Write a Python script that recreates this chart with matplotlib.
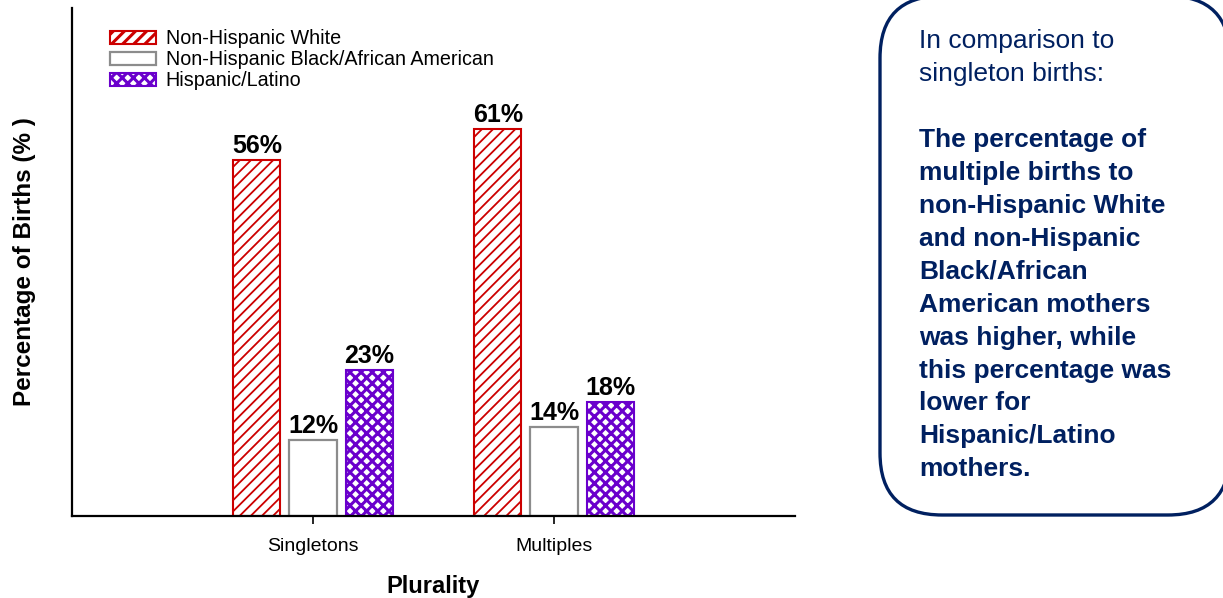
import matplotlib
matplotlib.use("Agg")
import matplotlib.pyplot as plt
from matplotlib.patches import FancyBboxPatch
import numpy as np

plt.rcParams['font.family'] = ['Liberation Sans', 'DejaVu Sans']

categories = ["Singletons", "Multiples"]
series_names = ["Non-Hispanic White", "Non-Hispanic Black/African American", "Hispanic/Latino"]
white_vals = [56, 61]
black_vals = [12, 14]
hisp_vals = [23, 18]
value_labels = [["56%", "61%"], ["12%", "14%"], ["23%", "18%"]]

note_intro = "In comparison to\nsingleton births:"
note_bold = ("The percentage of\nmultiple births to\nnon-Hispanic White\nand non-Hispanic\n"
             "Black/African\nAmerican mothers\nwas higher, while\nthis percentage was\n"
             "lower for\nHispanic/Latino\nmothers.")

W, H = 1223, 598
fig = plt.figure(figsize=(W / 100, H / 100), dpi=100)

ax = fig.add_axes([72 / W, 1 - 516 / H, (795 - 72) / W, (516 - 8) / H])

x = np.arange(len(categories))
bw = 0.196
off = 0.233

styles = [
    dict(facecolor="white", edgecolor="#cc0000", hatch="///", lw=1.5, hlw=1.3),
    dict(facecolor="white", edgecolor="#8c8c8c", hatch=None, lw=1.6, hlw=1.0),
    dict(facecolor="white", edgecolor="#6a00cc", hatch="xxx", lw=1.5, hlw=2.2),
]
all_vals = [white_vals, black_vals, hisp_vals]
handles = []
for i, (vals, st) in enumerate(zip(all_vals, styles)):
    plt.rcParams['hatch.linewidth'] = st["hlw"]
    bars = ax.bar(x + (i - 1) * off, vals, width=bw, facecolor=st["facecolor"],
                  edgecolor=st["edgecolor"], hatch=st["hatch"], linewidth=st["lw"],
                  label=series_names[i], zorder=2)
    for b in bars:
        if hasattr(b, "set_hatch_linewidth"):
            b.set_hatch_linewidth(st["hlw"])
    handles.append(bars)
    for b, lab in zip(bars, value_labels[i]):
        ax.annotate(lab, (b.get_x() + b.get_width() / 2, b.get_height()),
                    xytext=(0, 1.5), textcoords="offset points", ha="center", va="bottom",
                    fontsize=18, fontweight="bold", color="black")

ax.set_xlim(-1, 2)
ax.set_ylim(0, 80)
ax.set_xticks(x)
ax.set_xticklabels(categories, fontsize=14)
ax.tick_params(axis="x", direction="out", length=6, width=1.2, pad=10)
ax.set_yticks([])
for s in ["top", "right"]:
    ax.spines[s].set_visible(False)
for s in ["left", "bottom"]:
    ax.spines[s].set_linewidth(1.6)
ax.set_xlabel("Plurality", fontsize=17, fontweight="bold", labelpad=14)
ax.set_ylabel("Percentage of Births (% )", fontsize=17.5, fontweight="bold", labelpad=26)

leg = ax.legend(loc="upper left", bbox_to_anchor=(0.053, 0.958), frameon=False,
                fontsize=14.2, handlelength=2.3, handleheight=0.62, handletextpad=0.5,
                labelspacing=0.1, borderpad=0, borderaxespad=0)

# Note box in pixel coordinates
bg = fig.add_axes([0, 0, 1, 1], zorder=-1)
bg.set_xlim(0, W)
bg.set_ylim(H, 0)
bg.axis("off")
box = FancyBboxPatch((880, -4), 350, 519, boxstyle="round,pad=0,rounding_size=62",
                     facecolor="white", edgecolor="#002060", linewidth=2.4)
bg.add_patch(box)
bg.text(919, 29, note_intro, fontsize=19, color="#002060", va="top", ha="left",
        linespacing=1.47)
bg.text(919, 128, note_bold, fontsize=19, color="#002060", va="top", ha="left",
        fontweight="bold", linespacing=1.47)

fig.savefig("out.png", dpi=100)
